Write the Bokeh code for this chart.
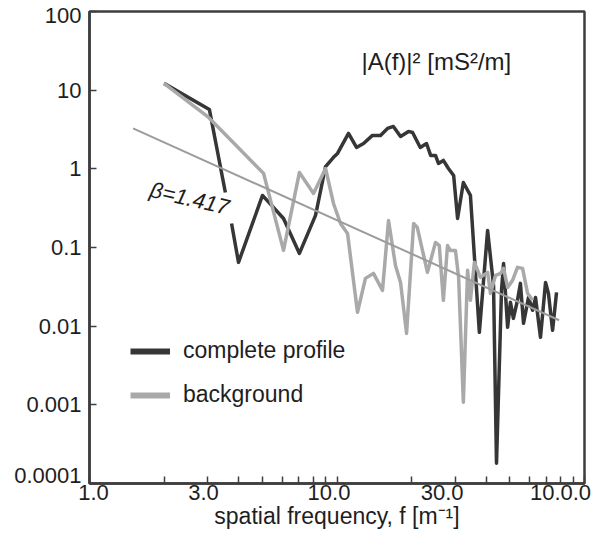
import numpy as np
from bokeh.plotting import figure
from bokeh.models import FixedTicker, CustomJSTickFormatter, Label, Legend, LegendItem
from bokeh.embed import file_html
from bokeh.resources import INLINE

nan = float("nan")

# ---------------- data ----------------
dark_f = [2.0, 3.05, 3.54, nan, 3.75, 4.0, 5.0, 6.08, 7.05, 8.19, 8.99, 9.68, 10.05,
          11.13, 11.99, 12.8, 13.91, 14.99, 16.0, 16.9, 18.06, 19.45, 20.2, 21.7, 23.0,
          23.9, 25.0, 25.7, 26.9, 28.2, 29.6, 30.7, 32.4, 34.6, 37.6, 40.6, 42.9, 44.1,
          46.2, 47.1, 48.9, 50.2, 51.6, 53.6, 55.1, 56.7, 59.4, 61.7, 63.4, 66.4, 69.6,
          71.5, 74.3, 77.1]
dark_y = [12.2, 5.69, 0.50, nan, 0.202, 0.0647, 0.459, 0.234, 0.0841, 0.256, 1.07, 1.40,
          1.57, 2.82, 1.87, 2.10, 2.66, 2.66, 3.26, 3.46, 2.58, 2.99, 2.90, 1.87, 2.10,
          1.48, 1.48, 1.17, 1.28, 1.01, 0.824, 0.234, 0.671, 0.459, 0.00834, 0.165, 0.033,
          0.000181, 0.0285, 0.0628, 0.00966, 0.0201, 0.01256, 0.0213, 0.035, 0.01086,
          0.0232, 0.0159, 0.0232, 0.00721, 0.036, 0.0261, 0.00885, 0.0269]

light_f = [2.0, 3.03, 5.05, 6.08, 7.05, 8.04, 8.99, 9.68, 10.33, 11.03, 12.1, 13.03, 14.04,
           15.27, 16.15, 17.23, 18.06, 19.1, 20.4, 21.1, 23.2, 25.0, 25.9, 26.9, 27.96,
           28.7, 30.1, 31.0, 32.4, 33.7, 34.6, 35.9, 38.0, 40.6, 41.7, 43.7, 45.8, 47.1,
           48.9, 51.2, 53.6, 56.2, 58.9, 61.7]
light_y = [12.2, 4.50, 0.875, 0.0919, 0.90, 0.487, 1.01, 0.363, 0.202, 0.151, 0.015,
           0.0405, 0.0469, 0.0285, 0.221, 0.0592, 0.036, 0.0081, 0.202, 0.180, 0.0483,
           0.116, 0.106, 0.0213, 0.106, 0.0919, 0.0919, 0.0417, 0.00108, 0.0512, 0.0213,
           0.0647, 0.0417, 0.0483, 0.0261, 0.0442, 0.0469, 0.0543, 0.0311, 0.0382, 0.0559,
           0.0543, 0.0261, 0.0213]

fit_f = [1.5, 79.0]
fit_y = [3.26, 0.0119]
beta_text = "\u03b2=1.417"

x_tick_values = [1, 3, 10, 30, 100]
x_tick_labels = ["1.0", "3.0", "10.0", "30.0", "10.0.0"]
x_minor = [1, 2, 3, 4, 5, 6, 7, 8, 9, 10, 20, 30, 40, 50, 60, 70, 80, 90, 100]
y_tick_values = [1e-4, 1e-3, 1e-2, 1e-1, 1, 10, 100]
y_tick_labels = ["0.0001", "0.001", "0.01", "0.1", "1", "10", "100"]

series_names = ["complete profile", "background"]
unit_text = "|A(f)|\u00b2 [mS\u00b2/m]"
x_title = "spatial frequency, f [m\u207b\u00b9]"

# ---------------- style ----------------
FONT = "Liberation Sans"
TXT = "#1e1e1e"
DARK = "#363636"
LIGHT = "#a9a9a9"
FIT = "#9c9c9c"
FRAME = "#3e3e3e"
# display nudges of the tick labels (multiplicative), as placed in the original figure
x_nudge = [1.038, 0.963, 0.928, 0.886, 0.80]
y_nudge = [1.264, 1, 1, 1, 1, 1, 0.877]

p = figure(width=592, height=534, x_axis_type="log", y_axis_type="log",
           x_range=(1, 100), y_range=(1e-4, 100),
           output_backend="svg", toolbar_location=None,
           min_border_left=89, min_border_right=8, min_border_top=11, min_border_bottom=51)
p.grid.visible = False
p.outline_line_color = FRAME
p.outline_line_width = 2.5
p.outline_line_alpha = 1
p.background_fill_color = "white"
p.border_fill_color = "white"

xa = p.xaxis[0]
xa.ticker = FixedTicker(ticks=[v * k for v, k in zip(x_tick_values, x_nudge)], minor_ticks=x_minor)
xa.formatter = CustomJSTickFormatter(args=dict(labels=x_tick_labels), code="return labels[index];")
ya = p.yaxis[0]
ya.ticker = FixedTicker(ticks=[v * k for v, k in zip(y_tick_values, y_nudge)], minor_ticks=y_tick_values)
ya.formatter = CustomJSTickFormatter(args=dict(labels=y_tick_labels), code="return labels[index];")

for ax in (xa, ya):
    ax.axis_line_color = FRAME
    ax.axis_line_width = 2.5
    ax.major_tick_in = 0
    ax.major_tick_out = 0
    ax.major_tick_line_color = None
    ax.minor_tick_in = 7
    ax.minor_tick_out = 0
    ax.minor_tick_line_color = FRAME
    ax.minor_tick_line_width = 1.5
    ax.major_label_text_font = FONT
    ax.major_label_text_font_size = "22px"
    ax.major_label_text_color = TXT
    ax.axis_label_text_font = FONT
    ax.axis_label_text_font_size = "23px"
    ax.axis_label_text_font_style = "normal"
    ax.axis_label_text_color = TXT

ya.major_label_standoff = 8
xa.major_label_standoff = 1
xa.axis_label = x_title
xa.axis_label_standoff = 0

r_dark = p.line(np.array(dark_f, dtype=float), np.array(dark_y, dtype=float),
                line_color=DARK, line_width=3.5, line_join="round")
r_light = p.line(np.array(light_f, dtype=float), np.array(light_y, dtype=float),
                 line_color=LIGHT, line_width=3.5, line_join="round")
p.line(fit_f, fit_y, line_color=FIT, line_width=2)

# legend swatches (thicker than the data lines, as in the original); no visible data
lg_dark = p.line(np.array([nan]), np.array([nan]), line_color=DARK, line_width=6)
lg_light = p.line(np.array([nan]), np.array([nan]), line_color=LIGHT, line_width=6)
legend = Legend(items=[LegendItem(label=series_names[0], renderers=[lg_dark]),
                       LegendItem(label=series_names[1], renderers=[lg_light])],
                location=(41, 75), glyph_width=40, glyph_height=20, label_height=20,
                label_standoff=13, spacing=17, padding=0, margin=0,
                border_line_color=None, background_fill_alpha=0,
                label_text_font=FONT, label_text_font_size="23px", label_text_color=TXT)
p.add_layout(legend, "center")

p.add_layout(Label(x=25.2, y=23.2, text=unit_text, text_align="center", text_baseline="middle",
                   text_font=FONT, text_font_size="24px", text_color=TXT))
p.add_layout(Label(x=2.54, y=0.42, text=beta_text, angle=-0.23, text_align="center",
                   text_baseline="middle", text_font=FONT, text_font_size="22px",
                   text_font_style="italic", text_color=TXT))

open("out.html", "w").write(file_html(p, INLINE))
